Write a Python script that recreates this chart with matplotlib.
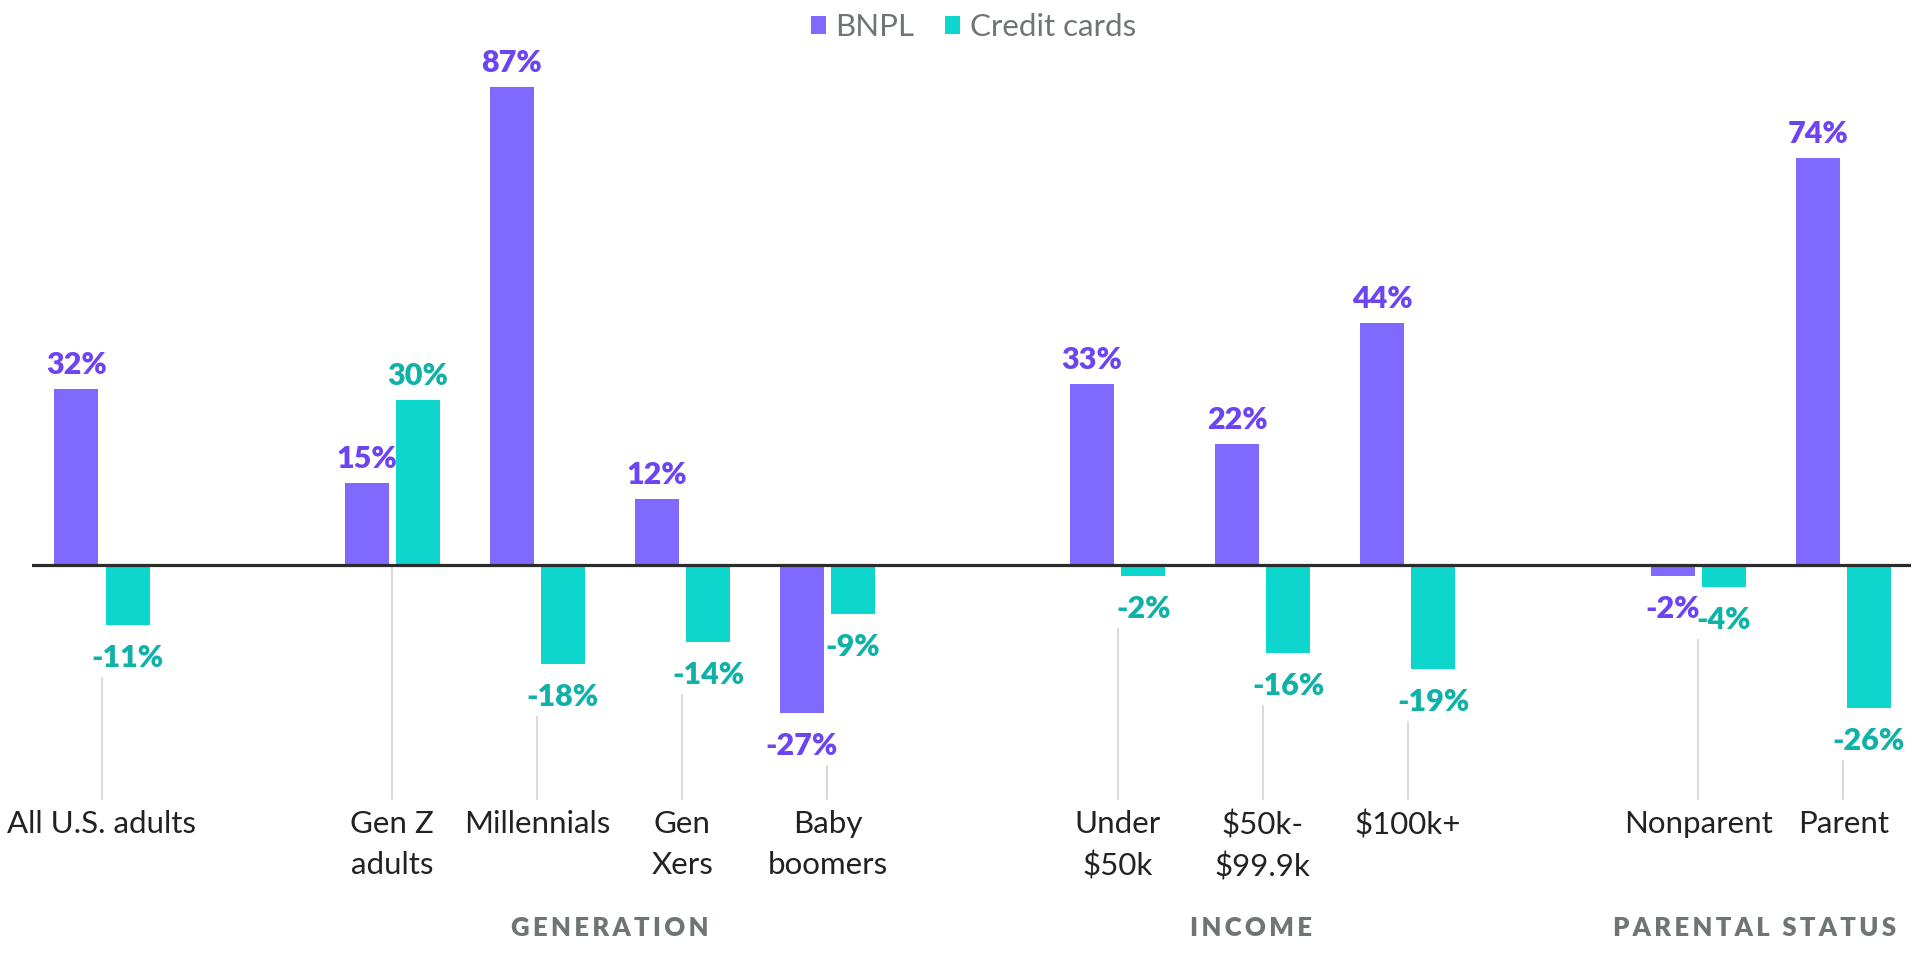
import matplotlib
matplotlib.use("Agg")
import matplotlib.pyplot as plt
from matplotlib.patches import Patch
import numpy as np

# ---- data ----
categories = ["All U.S. adults", "Gen Z\nadults", "Millennials", "Gen\nXers", "Baby\nboomers",
              "Under\n$50k", "$50k-\n$99.9k", "$100k+", "Nonparent", "Parent"]
bnpl = [32, 15, 87, 12, -27, 33, 22, 44, -2, 74]
credit = [-11, 30, -18, -14, -9, -2, -16, -19, -4, -26]
group_names = ["", "GENERATION", "INCOME", "PARENTAL STATUS"]
group_sizes = [1, 4, 3, 2]
series_names = ["BNPL", "Credit cards"]

# ---- style ----
BAR_B = "#8069ff"
BAR_C = "#0dd6cc"
LAB_B = "#6c44f2"
LAB_C = "#10b2a8"
GRAY_TXT = "#6f7575"
DARK = "#222222"
FONT = ["Lato", "DejaVu Sans"]
header_shift_px = [0, 0, -12, -16]

plt.rcParams["font.family"] = FONT

W, H = 1920, 960
fig = plt.figure(figsize=(W / 100, H / 100), dpi=100)

# positions with a gap slot between groups
pos = []
x = 0
for s in group_sizes:
    for _ in range(s):
        pos.append(x)
        x += 1
    x += 1
pos = np.array(pos, dtype=float)

unit_px = 145.1
x0_px = 102.0
left_px, right_px = 31.7, 1911.0
zero_px = 565.0
px_per_val = 5.494

ax = fig.add_axes([left_px / W, 0, (right_px - left_px) / W, 1])
ax.set_xlim((left_px - x0_px) / unit_px, (right_px - x0_px) / unit_px)
ax.set_ylim(-(H - zero_px) / px_per_val, zero_px / px_per_val)
ax.axis("off")

off = 0.176
bw = 0.303
ax.bar(pos - off, bnpl, width=bw, color=BAR_B, zorder=2)
ax.bar(pos + off, credit, width=bw, color=BAR_C, zorder=2)
ax.axhline(0, color="#2b2b2b", lw=2.3, zorder=3)

val_fs = 22
for xs, vals, col in ((pos - off, bnpl, LAB_B), (pos + off, credit, LAB_C)):
    for xi, v in zip(xs, vals):
        dy = 15 if v >= 0 else -42
        ax.annotate(f"{v}%", (xi, v), xytext=(0, dy), textcoords="offset pixels",
                    ha="center", va="baseline", fontsize=val_fs, fontweight="heavy",
                    color=col, zorder=4)

# leader lines and category labels
line_bottom = -(799 - zero_px) / px_per_val
line_gap = 53 / px_per_val
label_top = -(810 - zero_px) / px_per_val
for xi, b, c, name in zip(pos, bnpl, credit, categories):
    lo = min(b, c)
    top = lo - line_gap if lo < 0 else -0.3
    ax.plot([xi, xi], [top, line_bottom], color="#d3d3d3", lw=1.2, zorder=1)
    ax.text(xi, label_top, name, ha="center", va="top", fontsize=22.5,
            color=DARK, linespacing=1.55, parse_math=False)

# group headers
head_y = -(936 - zero_px) / px_per_val
start = 0
for gname, s, sh in zip(group_names, group_sizes, header_shift_px):
    members = pos[start:start + s]
    start += s
    if not gname:
        continue
    spaced = "\u2009".join(gname)
    ax.text(members.mean() + sh / unit_px, head_y, spaced, ha="center", va="baseline",
            fontsize=18.5, fontweight="heavy", color=GRAY_TXT)

# legend
handles = [Patch(facecolor=BAR_B, edgecolor="none"), Patch(facecolor=BAR_C, edgecolor="none")]
fig.legend(handles, series_names, loc="upper center", bbox_to_anchor=(0.507, 1.006),
           ncol=2, frameon=False, fontsize=22.5, labelcolor=GRAY_TXT,
           handlelength=0.48, handleheight=0.48, handletextpad=0.3,
           columnspacing=1.0, borderaxespad=0.2)

fig.savefig("out.png", dpi=100)
